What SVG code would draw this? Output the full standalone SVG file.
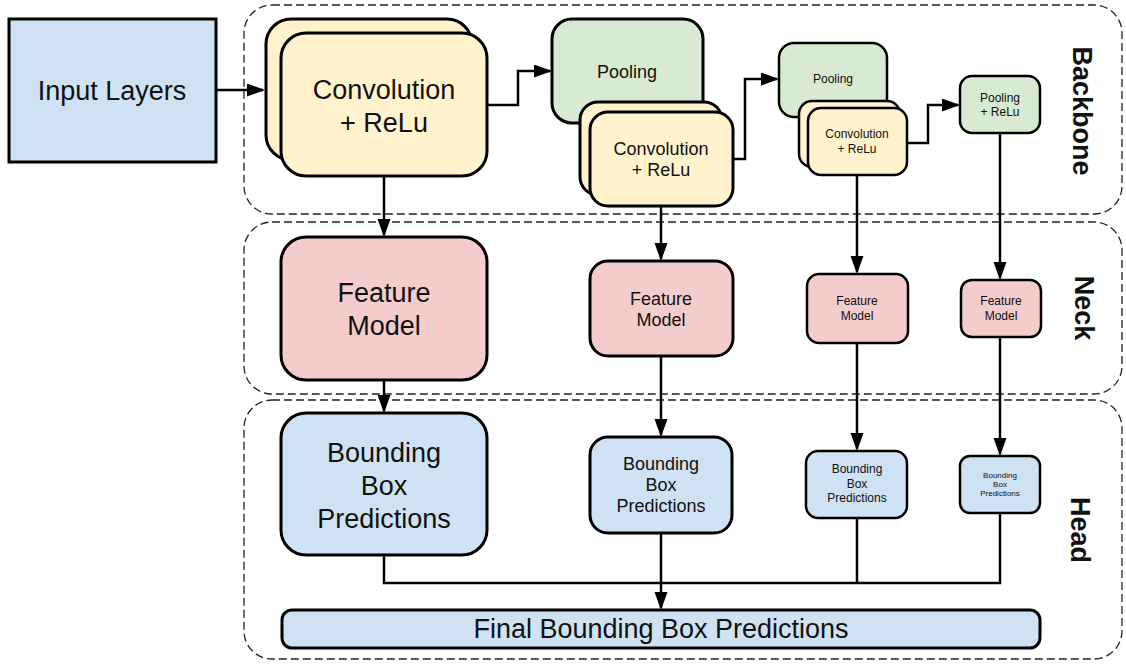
<svg xmlns="http://www.w3.org/2000/svg" width="1126" height="664" viewBox="0 0 1126 664">
  <style>
    .stage { fill: none; stroke: #222; stroke-width: 1.3; stroke-dasharray: 8 4; }
    .box { stroke: #000; stroke-width: 3; }
    .sm { stroke-width: 2.5; }
    .blue { fill: #cfe2f3; }
    .yellow { fill: #fff2cc; }
    .green { fill: #d9ead3; }
    .pink { fill: #f4cccc; }
    text { font-family: "Liberation Sans", Arial, sans-serif; fill: #111; text-anchor: middle; }
    .t27 { font-size: 27px; }
    .t18 { font-size: 18px; }
    .t12 { font-size: 12px; }
    .t8 { font-size: 8px; }
    .label { font-size: 27px; font-weight: bold; }
    .wire { fill: none; stroke: #000; stroke-width: 2.5; }
  </style>
  <defs>
    <marker id="arrow" markerUnits="userSpaceOnUse" markerWidth="18" markerHeight="14" refX="16" refY="6.5" orient="auto">
      <path d="M0,0 L18,6.5 L0,13 Z" fill="#000"/>
    </marker>
  </defs>

  <rect width="1126" height="664" fill="#fff"/>

  <!-- stage outlines -->
  <g id="stages">
    <rect class="stage" x="244" y="5" width="878" height="209" rx="28"/>
    <rect class="stage" x="244" y="222" width="878" height="172" rx="28"/>
    <rect class="stage" x="244" y="400" width="878" height="259" rx="28"/>
    <text class="label" transform="translate(1083,111) rotate(90)" y="9.7">Backbone</text>
    <text class="label" transform="translate(1085,308) rotate(90)" y="9.7">Neck</text>
    <text class="label" transform="translate(1081,530) rotate(90)" y="9.7">Head</text>
  </g>

  <!-- connectors -->
  <g id="connectors">
    <path class="wire" d="M216,90 H263" marker-end="url(#arrow)"/>
    <path class="wire" d="M487,105 H518 V71 H550" marker-end="url(#arrow)"/>
    <path class="wire" d="M733,159 H745 V79 H777" marker-end="url(#arrow)"/>
    <path class="wire" d="M907,143 H928 V105 H958" marker-end="url(#arrow)"/>

    <path class="wire" d="M384,176 V235" marker-end="url(#arrow)"/>
    <path class="wire" d="M661,206 V259" marker-end="url(#arrow)"/>
    <path class="wire" d="M857,175 V272" marker-end="url(#arrow)"/>
    <path class="wire" d="M1000,133 V278" marker-end="url(#arrow)"/>

    <path class="wire" d="M384,380 V411" marker-end="url(#arrow)"/>
    <path class="wire" d="M661,356 V435" marker-end="url(#arrow)"/>
    <path class="wire" d="M857,343 V449" marker-end="url(#arrow)"/>
    <path class="wire" d="M1000,337 V454" marker-end="url(#arrow)"/>

    <path class="wire" d="M384,555 V583 H1000 V513"/>
    <path class="wire" d="M857,518 V583"/>
    <path class="wire" d="M661,533 V608" marker-end="url(#arrow)"/>
  </g>

  <!-- input -->
  <g id="input-layers">
    <rect class="box blue" x="9" y="19" width="207" height="143"/>
    <text class="t27" x="112" y="100">Input Layers</text>
  </g>

  <!-- backbone -->
  <g id="conv-1">
    <rect class="box yellow" x="266" y="19" width="206" height="141" rx="25"/>
    <rect class="box yellow" x="281" y="33" width="206" height="143" rx="25"/>
    <text class="t27" x="384" y="99">Convolution</text>
    <text class="t27" x="384" y="132">+ ReLu</text>
  </g>
  <g id="pool-1">
    <rect class="box green" x="552" y="19" width="151" height="104" rx="20"/>
    <text class="t18" x="627" y="78">Pooling</text>
  </g>
  <g id="conv-2">
    <rect class="box yellow" x="580" y="102" width="142" height="93" rx="18"/>
    <rect class="box yellow" x="590" y="112" width="143" height="94" rx="18"/>
    <text class="t18" x="661" y="155">Convolution</text>
    <text class="t18" x="661" y="176">+ ReLu</text>
  </g>
  <g id="pool-2">
    <rect class="box green sm" x="779" y="43" width="108" height="74" rx="15"/>
    <text class="t12" x="833" y="83">Pooling</text>
  </g>
  <g id="conv-3">
    <rect class="box yellow sm" x="799" y="101" width="101" height="66" rx="13"/>
    <rect class="box yellow sm" x="808" y="108" width="99" height="67" rx="13"/>
    <text class="t12" x="857" y="138">Convolution</text>
    <text class="t12" x="857" y="153">+ ReLu</text>
  </g>
  <g id="pool-3">
    <rect class="box green sm" x="960" y="76" width="80" height="57" rx="12"/>
    <text class="t12" x="1000" y="102">Pooling</text>
    <text class="t12" x="1000" y="116">+ ReLu</text>
  </g>

  <!-- neck -->
  <g id="feature-1">
    <rect class="box pink" x="281" y="237" width="206" height="143" rx="25"/>
    <text class="t27" x="384" y="302">Feature</text>
    <text class="t27" x="384" y="335">Model</text>
  </g>
  <g id="feature-2">
    <rect class="box pink" x="590" y="261" width="143" height="95" rx="18"/>
    <text class="t18" x="661" y="305">Feature</text>
    <text class="t18" x="661" y="326">Model</text>
  </g>
  <g id="feature-3">
    <rect class="box pink sm" x="807" y="274" width="101" height="69" rx="12"/>
    <text class="t12" x="857" y="305">Feature</text>
    <text class="t12" x="857" y="320">Model</text>
  </g>
  <g id="feature-4">
    <rect class="box pink sm" x="961" y="280" width="80" height="57" rx="11"/>
    <text class="t12" x="1001" y="305">Feature</text>
    <text class="t12" x="1001" y="320">Model</text>
  </g>

  <!-- head -->
  <g id="bbox-1">
    <rect class="box blue" x="281" y="413" width="206" height="142" rx="25"/>
    <text class="t27" x="384" y="462">Bounding</text>
    <text class="t27" x="384" y="495">Box</text>
    <text class="t27" x="384" y="528">Predictions</text>
  </g>
  <g id="bbox-2">
    <rect class="box blue" x="590" y="437" width="142" height="96" rx="18"/>
    <text class="t18" x="661" y="470">Bounding</text>
    <text class="t18" x="661" y="491">Box</text>
    <text class="t18" x="661" y="512">Predictions</text>
  </g>
  <g id="bbox-3">
    <rect class="box blue sm" x="806" y="451" width="101" height="67" rx="12"/>
    <text class="t12" x="857" y="473">Bounding</text>
    <text class="t12" x="857" y="488">Box</text>
    <text class="t12" x="857" y="502">Predictions</text>
  </g>
  <g id="bbox-4">
    <rect class="box blue sm" x="960" y="456" width="80" height="57" rx="10"/>
    <text class="t8" x="1000" y="478">Bounding</text>
    <text class="t8" x="1000" y="487">Box</text>
    <text class="t8" x="1000" y="496">Predictions</text>
  </g>
  <g id="final-predictions">
    <rect class="box blue" x="282" y="610" width="758" height="38" rx="10"/>
    <text class="t27" x="661" y="638">Final Bounding Box Predictions</text>
  </g>
</svg>
